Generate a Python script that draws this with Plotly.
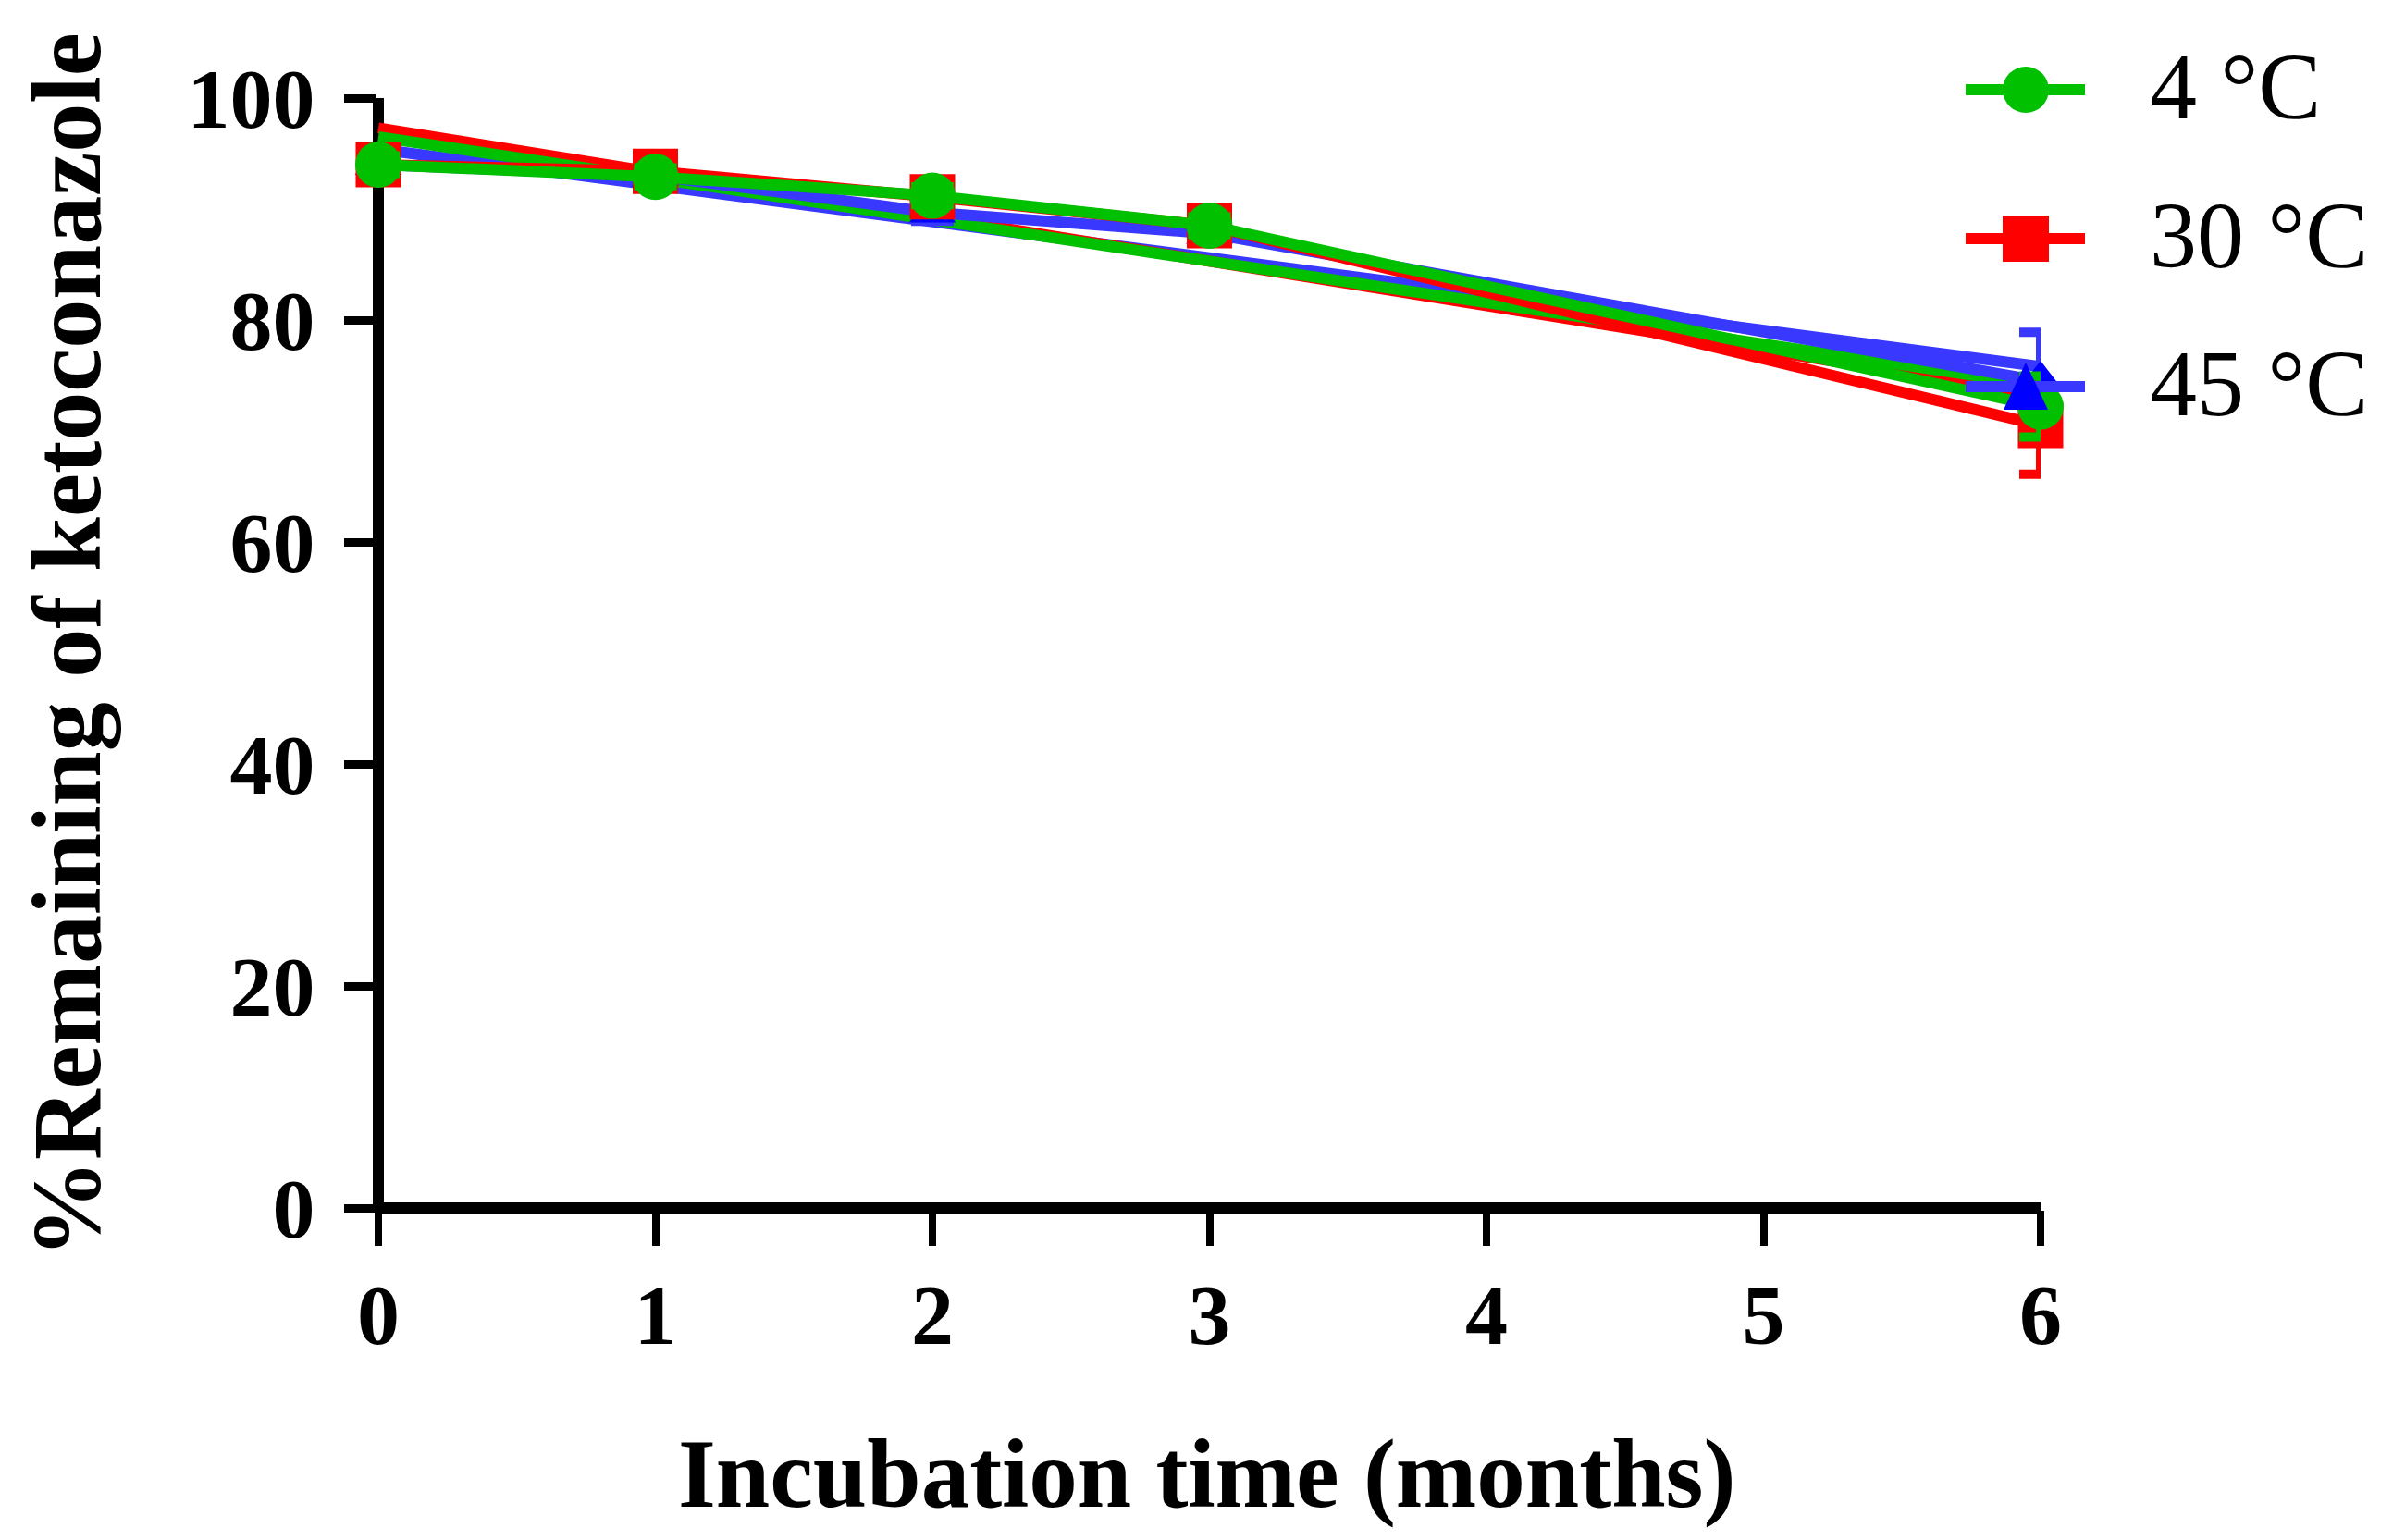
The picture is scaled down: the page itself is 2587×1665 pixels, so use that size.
import plotly.graph_objects as go

# ---- data ----
months = [0, 1, 2, 3, 6]
c4 = [94.0, 92.9, 91.2, 88.5, 72.2]
err4 = [0.8, 0.8, 0.8, 0.8, 2.75]
c30 = [94.0, 93.4, 91.1, 88.5, 70.5]
err30 = [1.0, 1.0, 1.0, 1.0, 4.4]
c45 = [94.0, 93.0, 89.7, 87.8, 74.5]
err45 = [0.8, 0.8, 0.8, 0.8, 4.4]

# linear trend lines (end points)
fit_x = [0, 6]
fit4 = [96.5, 74.1]
fit30 = [97.3, 73.3]
fit45 = [95.4, 75.8]

legend_names = ["4 °C", "30 °C", "45 °C"]
x_ticks = [0, 1, 2, 3, 4, 5, 6]
y_ticks = [0, 20, 40, 60, 80, 100]

GREEN = "#00c000"
RED = "#ff0000"
BLUE = "#0000ff"
BLUE_L = "#3838ff"

W, H = 2587, 1665
AXW = 12                      # axis (zero) line width
# pixel positions of the data origin / extremes in the reference
X0PX, X6PX, Y0PX, Y100PX = 409, 2206, 1306, 106
GAP = 2                       # keep the zero lines just inside the plot area
ML = X0PX - GAP
MR = W - X6PX
MT = Y100PX
MB = H - (Y0PX + GAP)
PW, PH = W - ML - MR, H - MT - MB
xr0 = -GAP / ((X6PX - X0PX) / 6)
yr0 = -GAP / ((Y0PX - Y100PX) / 100)

LW = 12

fig = go.Figure()

series = [
    (legend_names[2], c45, err45, fit45, BLUE_L, BLUE, "triangle-up", 44),
    (legend_names[1], c30, err30, fit30, RED, RED, "square", 49),
    (legend_names[0], c4, err4, fit4, GREEN, GREEN, "circle", 50),
]

for name, ys, es, fy, lcol, mcol, sym, ms in series:
    fig.add_trace(go.Scatter(
        x=fit_x, y=fy, mode="lines", line=dict(color=lcol, width=LW),
        cliponaxis=False, showlegend=False, hoverinfo="skip"))
for name, ys, es, fy, lcol, mcol, sym, ms in series:
    fig.add_trace(go.Scatter(
        x=months, y=ys, mode="lines+markers", name=name,
        line=dict(color=lcol, width=LW),
        marker=dict(color=mcol, size=ms, symbol=sym, line=dict(width=0)),
        error_y=dict(type="data", array=es, visible=True, color=lcol,
                     thickness=10, width=23),
        cliponaxis=False, showlegend=False))

font_bold = dict(family="Liberation Serif", size=92, color="black", weight="bold")

fig.update_xaxes(
    range=[xr0, 6], tickvals=x_ticks, ticktext=[str(v) for v in x_ticks],
    showline=False, zeroline=True, zerolinecolor="black", zerolinewidth=AXW,
    ticks="outside", ticklen=38, tickwidth=8, tickcolor="black",
    showgrid=False, tickfont=font_bold,
    ticklabelstandoff=-4)
fig.update_yaxes(
    range=[yr0, 100], tickvals=y_ticks, ticktext=[str(v) for v in y_ticks],
    showline=False, zeroline=True, zerolinecolor="black", zerolinewidth=AXW,
    ticks="outside", ticklen=34, tickwidth=9, tickcolor="black",
    showgrid=False, tickfont=font_bold,
    ticklabelstandoff=13)

def px_x(px):
    return (px - ML) / PW

def px_y(py):
    return (MT + PH - py) / PH

annotations = [
    dict(text="<b>Incubation time (months)</b>", xref="paper", yref="paper",
         x=px_x(1304), y=px_y(1593), xanchor="center", yanchor="middle",
         showarrow=False, font=dict(family="Liberation Serif", size=105, color="black")),
    dict(text="<b>%Remaining of ketoconazole</b>", xref="paper", yref="paper",
         x=px_x(72), y=px_y(698), xanchor="center", yanchor="middle", textangle=-90,
         showarrow=False, font=dict(family="Liberation Serif", size=106, color="black")),
]

# ---- hand-drawn legend (large symbols like the original) ----
rows_py = [97, 258, 418]
leg_cols = [(GREEN, GREEN), (RED, RED), (BLUE_L, BLUE)]
shapes = []
for (lc, mc), py, nm, kind in zip(leg_cols, rows_py, legend_names, ["circle", "square", "triangle"]):
    ya = px_y(py)
    shapes.append(dict(type="line", xref="paper", yref="paper",
                       x0=px_x(2125), x1=px_x(2254), y0=ya, y1=ya,
                       line=dict(color=lc, width=12), layer="above"))
    xa = px_x(2190)
    if kind == "circle":
        shapes.append(dict(type="circle", xref="paper", yref="paper",
                           xsizemode="pixel", ysizemode="pixel", xanchor=xa, yanchor=ya,
                           x0=-25, x1=25, y0=-25, y1=25,
                           fillcolor=mc, line=dict(width=0), layer="above"))
    elif kind == "square":
        shapes.append(dict(type="rect", xref="paper", yref="paper",
                           xsizemode="pixel", ysizemode="pixel", xanchor=xa, yanchor=ya,
                           x0=-25, x1=25, y0=-25, y1=25,
                           fillcolor=mc, line=dict(width=0), layer="above"))
    else:
        shapes.append(dict(type="path", xref="paper", yref="paper",
                           xsizemode="pixel", ysizemode="pixel", xanchor=xa, yanchor=ya,
                           path="M -24 -25 L 24 -25 L 0 26 Z",
                           fillcolor=mc, line=dict(width=0), layer="above"))
    annotations.append(dict(text=nm, xref="paper", yref="paper",
                            x=px_x(2322), y=px_y(py - 4), xanchor="left", yanchor="middle",
                            showarrow=False,
                            font=dict(family="Liberation Serif", size=102, color="black")))

fig.update_layout(
    width=W, height=H,
    margin=dict(l=ML, r=MR, t=MT, b=MB, pad=0),
    plot_bgcolor="white", paper_bgcolor="white",
    showlegend=False,
    annotations=annotations, shapes=shapes,
)

fig.write_html("out.html", config={"displayModeBar": False},
               post_script="document.body.style.margin='0';document.body.style.overflow='hidden';")
